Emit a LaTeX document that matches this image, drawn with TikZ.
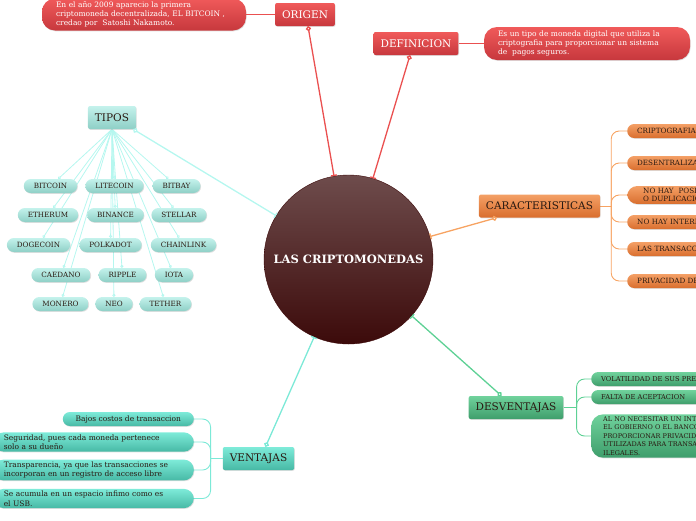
\documentclass[tikz,border=0pt]{standalone}
\usepackage{fontspec}
\setmainfont{DejaVu Serif}
\usetikzlibrary{positioning,arrows.meta,shadows,backgrounds}

\definecolor{rojoTop}{HTML}{F05A5A}
\definecolor{rojoBot}{HTML}{C7383D}
\definecolor{rojoLinea}{HTML}{EA5050}
\definecolor{aguaTop}{HTML}{C4F2EC}
\definecolor{aguaBot}{HTML}{8ECFC6}
\definecolor{aguaLinea}{HTML}{B5F7EF}
\definecolor{naranjaTop}{HTML}{F4A066}
\definecolor{naranjaBot}{HTML}{D96E2E}
\definecolor{naranjaLinea}{HTML}{F7A362}
\definecolor{verdeTop}{HTML}{70D29C}
\definecolor{verdeBot}{HTML}{3F9E6C}
\definecolor{verdeLinea}{HTML}{5ED195}
\definecolor{turqTop}{HTML}{7EEBD9}
\definecolor{turqBot}{HTML}{47B9A5}
\definecolor{turqLinea}{HTML}{7CE9D7}
\definecolor{vinoTop}{HTML}{6E4C4C}
\definecolor{vinoBot}{HTML}{3C0A0A}
\definecolor{tinta}{HTML}{2A1A12}

\begin{document}
\begin{tikzpicture}[x=1pt, y=-1pt,
        sombra/.style={drop shadow={opacity=0.25, shadow xshift=0.6pt, shadow yshift=-0.8pt}},
        rama/.style={rectangle, rounded corners=2pt, minimum height=23pt, inner xsep=7pt, font=\fontsize{10.5}{12}\selectfont, sombra},
        hoja/.style={rectangle, rounded corners=7pt, minimum height=14pt, inner ysep=2pt, inner xsep=10pt, font=\fontsize{7.2}{8.5}\selectfont, text=tinta, sombra},
        nota/.style={rectangle, rounded corners=13pt, align=left, inner xsep=14pt, inner ysep=3pt, font=\fontsize{7.5}{9}\selectfont, text=white, sombra},
        enlace/.style={line width=1.3pt, {Circle[open,length=5pt,width=5pt]}-{Bar[width=6pt]}},
        brazo/.style={line width=0.9pt, rounded corners=8pt},
        rojo/.style={top color=rojoTop, bottom color=rojoBot, text=white},
        agua/.style={top color=aguaTop, bottom color=aguaBot},
        naranja/.style={top color=naranjaTop, bottom color=naranjaBot, text=tinta},
        verde/.style={top color=verdeTop, bottom color=verdeBot, text=tinta},
        turq/.style={top color=turqTop, bottom color=turqBot, text=tinta}]

        \useasboundingbox (0,0) rectangle (696,520);
        \clip (0,0) rectangle (696,520);

        % Tema central
        \node[circle, minimum size=169pt, top color=vinoTop, bottom color=vinoBot, draw=vinoBot, text=white, font=\fontsize{11.5}{13}\bfseries] (centro) at (348.5,259.5) {LAS CRIPTOMONEDAS};

        % Origen
        \node[rama, rojo] (origen) at (305,14.5) {ORIGEN};
        \node[nota, rojo, text width=176pt, minimum height=32pt] (origenT) at (144,14.5) {En el año 2009 aparecio la primera\\criptomoneda decentralizada, EL BITCOIN ,\\credao por\ \ Satoshi Nakamoto.};

        % Definicion
        \node[rama, rojo] (defin) at (416,43.5) {DEFINICION};
        \node[nota, rojo, text width=178pt, minimum height=33pt] (definT) at (587,43.5) {Es un tipo de moneda digital que utiliza la\\criptografia para proporcionar un sistema\\de\ \ pagos seguros.};

        % Tipos
        \node[rama, agua, text=tinta] (tipos) at (112,117.5) {TIPOS};
        \node[hoja, agua] (bitcoin) at (50.5,186) {BITCOIN};
        \node[hoja, agua] (litecoin) at (114.5,186) {LITECOIN};
        \node[hoja, agua] (bitbay) at (176.5,186) {BITBAY};
        \node[hoja, agua] (etherum) at (48,215) {ETHERUM};
        \node[hoja, agua] (binance) at (115.5,215) {BINANCE};
        \node[hoja, agua] (stellar) at (179,215) {STELLAR};
        \node[hoja, agua] (dogecoin) at (38.5,245) {DOGECOIN};
        \node[hoja, agua] (polkadot) at (110.5,245) {POLKADOT};
        \node[hoja, agua] (chainlink) at (183.5,245) {CHAINLINK};
        \node[hoja, agua] (caedano) at (61,275) {CAEDANO};
        \node[hoja, agua] (ripple) at (122.5,275) {RIPPLE};
        \node[hoja, agua] (iota) at (174,275) {IOTA};
        \node[hoja, agua] (monero) at (60.5,304) {MONERO};
        \node[hoja, agua] (neo) at (114,304) {NEO};
        \node[hoja, agua] (tether) at (165.5,304) {TETHER};

        % Caracteristicas
        \node[rama, naranja] (caract) at (539.5,206) {CARACTERISTICAS};
        \node[hoja, naranja, anchor=west, text width=220pt] (cripto) at (627,131) {CRIPTOGRAFIA};
        \node[hoja, naranja, anchor=west, text width=220pt] (desent) at (627,163) {DESENTRALIZACION};
        \node[hoja, naranja, anchor=west, text width=220pt, rounded corners=10pt, inner xsep=16pt] (nohay) at (627,195) {NO HAY\ \ POSIBILIDAD DE COPIA\\O DUPLICACION};
        \node[hoja, naranja, anchor=west, text width=220pt] (interm) at (627,222) {NO HAY INTERMEDIARIOS};
        \node[hoja, naranja, anchor=west, text width=220pt] (transac) at (627,249) {LAS TRANSACCIONES SON IRREVERSIBLES};
        \node[hoja, naranja, anchor=west, text width=220pt] (privac) at (627,281) {PRIVACIDAD DE LOS USUARIOS};

        % Desventajas
        \node[rama, verde] (desv) at (516,407.5) {DESVENTAJAS};
        \node[hoja, verde, anchor=west, text width=200pt, font=\fontsize{6.7}{8}\selectfont] (volat) at (591,379) {VOLATILIDAD DE SUS PRECIOS};
        \node[hoja, verde, anchor=west, text width=200pt, font=\fontsize{6.7}{8}\selectfont] (falta) at (591,397) {FALTA DE ACEPTACION};
        \node[hoja, verde, anchor=west, text width=220pt, rounded corners=12pt, inner xsep=12pt, font=\fontsize{6.5}{8.6}\selectfont] (alno) at (591,436) {AL NO NECESITAR UN INTERMEDIARIO COMO\\EL GOBIERNO O EL BANCO Y AL\\PROPORCIONAR PRIVACIDAD PUEDEN SER\\UTILIZADAS PARA TRANSACCIONES\\ILEGALES.};

        % Ventajas
        \node[rama, turq] (vent) at (258.5,458.5) {VENTAJAS};
        \node[hoja, turq, anchor=east, minimum width=131pt, font=\fontsize{7.5}{9}\selectfont] (bajos) at (194,419) {Bajos costos de transaccion};
        \node[hoja, turq, anchor=east, text width=180pt, inner xsep=10pt, rounded corners=10pt, align=left, font=\fontsize{7.5}{9.5}\selectfont] (segur) at (194,442) {Seguridad, pues cada moneda pertenece\\solo a su dueño};
        \node[hoja, turq, anchor=east, text width=180pt, inner xsep=10pt, rounded corners=10pt, align=left, font=\fontsize{7.5}{9.5}\selectfont] (transp) at (194,470) {Transparencia, ya que las transacciones se\\incorporan en un registro de acceso libre};
        \node[hoja, turq, anchor=east, text width=180pt, inner xsep=10pt, rounded corners=10pt, align=left, font=\fontsize{7.5}{9.5}\selectfont] (acum) at (194,498.5) {Se acumula en un espacio infimo como es\\el USB.};

        % Ramas hacia el centro
        \draw[enlace, rojoLinea] ([xshift=3]origen.south) -- (centro);
        \draw[enlace, rojoLinea] ([xshift=-6]defin.south) -- (centro);
        \draw[enlace, aguaLinea] ([xshift=-3]tipos.south east) -- (centro);
        \draw[enlace, naranjaLinea] ([xshift=18]caract.south west) -- (centro);
        \draw[enlace, verdeLinea] ([xshift=33]desv.north west) -- (centro);
        \draw[enlace, turqLinea] ([xshift=7]vent.north) -- (centro);

        \begin{scope}[on background layer]
        % notas
        \draw[line width=1pt, rojoLinea] (origen) -- (origenT);
        \draw[line width=1pt, rojoLinea] (defin) -- (definT);

        % tipos
        \foreach \t in {bitcoin,litecoin,bitbay,etherum,binance,stellar,dogecoin,polkadot,chainlink,caedano,ripple,iota,monero,neo,tether}
            \draw[aguaLinea, line width=0.8pt, -{Circle[open,length=3pt,width=3pt]}] (tipos.south) -- (\t);

        % caracteristicas
        \draw[naranjaLinea, line width=0.9pt] (caract.east) -- ++(11,0) coordinate (troncoC);
        \foreach \h in {cripto,desent,nohay,interm,transac,privac}
            \draw[brazo, naranjaLinea] (troncoC) |- (\h.west);

        % desventajas
        \draw[verdeLinea, line width=0.9pt] (desv.east) -- ++(13,0) coordinate (troncoD);
        \foreach \h in {volat,falta,alno}
            \draw[brazo, verdeLinea] (troncoD) |- (\h.west);

        % ventajas
        \draw[turqLinea, line width=0.9pt] (vent.west) -- ++(-12,0) coordinate (troncoV);
        \foreach \h in {bajos,segur,transp,acum}
            \draw[brazo, turqLinea] (troncoV) |- (\h.east);
        \end{scope}
    \end{tikzpicture}
\end{document}
